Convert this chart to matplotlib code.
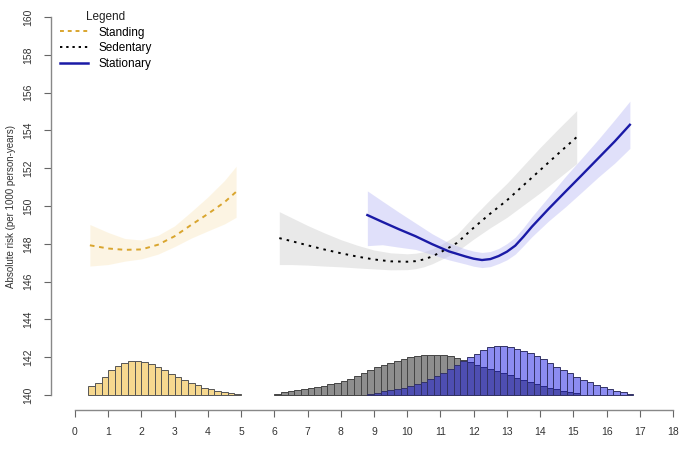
import numpy as np
import matplotlib
matplotlib.use("Agg")
import matplotlib.pyplot as plt
from matplotlib.lines import Line2D

# ---------------- data ----------------
# Standing (dashed goldenrod)
stand_x = [0.45, 1.0, 1.5, 2.0, 2.5, 3.0, 3.5, 4.0, 4.5, 4.85]
stand_y = [147.92, 147.75, 147.68, 147.70, 147.95, 148.40, 149.00, 149.58, 150.20, 150.75]
stand_lo = [146.82, 146.90, 147.08, 147.20, 147.45, 147.85, 148.30, 148.68, 149.05, 149.40]
stand_hi = [149.02, 148.60, 148.28, 148.20, 148.45, 148.95, 149.70, 150.48, 151.35, 152.10]

# Sedentary (dotted black)
sed_x = [6.15, 6.5, 7.0, 7.5, 8.0, 8.5, 9.0, 9.5, 10.0, 10.25, 10.5, 10.75, 11.0,
         11.25, 11.5, 12.0, 12.5, 13.0, 13.5, 14.0, 14.5, 15.1]
sed_y = [148.30, 148.15, 147.92, 147.70, 147.50, 147.32, 147.17, 147.07, 147.05,
         147.08, 147.17, 147.33, 147.55, 147.79, 148.05, 148.85, 149.60, 150.30,
         151.10, 151.90, 152.70, 153.65]
sed_lo = [146.90, 146.90, 146.87, 146.82, 146.78, 146.72, 146.67, 146.62, 146.63,
          146.68, 146.78, 146.94, 147.15, 147.37, 147.60, 148.25, 148.85, 149.40,
          150.05, 150.70, 151.40, 152.25]
sed_hi = [149.70, 149.40, 148.97, 148.58, 148.22, 147.92, 147.67, 147.52, 147.47,
          147.50, 147.58, 147.73, 147.95, 148.21, 148.50, 149.45, 150.35, 151.20,
          152.15, 153.10, 154.00, 155.05]

# Stationary (solid blue)
stat_x = [8.8, 9.25, 9.75, 10.25, 10.75, 11.25, 11.75, 12.0, 12.25, 12.5, 12.75,
          13.0, 13.25, 13.5, 13.75, 14.25, 14.75, 15.25, 15.75, 16.25, 16.7]
stat_y = [149.52, 149.16, 148.77, 148.40, 147.98, 147.60, 147.33, 147.21, 147.14,
          147.19, 147.35, 147.58, 147.90, 148.38, 148.90, 149.84, 150.74, 151.63,
          152.53, 153.43, 154.30]
stat_lo = [147.90, 147.95, 147.82, 147.70, 147.43, 147.15, 146.93, 146.81, 146.74,
           146.79, 146.95, 147.15, 147.45, 147.90, 148.37, 149.20, 149.94, 150.73,
           151.53, 152.28, 153.05]
stat_hi = [150.80, 150.26, 149.67, 149.10, 148.53, 148.05, 147.73, 147.61, 147.54,
           147.59, 147.75, 148.01, 148.35, 148.86, 149.43, 150.48, 151.54, 152.53,
           153.53, 154.58, 155.55]

# Histograms (bin width 0.2, base at 140)
hist_base = 140
bin_w = 0.2
stand_hist_start = 0.4
stand_hist = [0.48, 0.62, 0.97, 1.31, 1.53, 1.71, 1.82, 1.82, 1.75, 1.62, 1.48, 1.32,
              1.13, 0.97, 0.79, 0.63, 0.51, 0.39, 0.30, 0.21, 0.14, 0.09, 0.05]
sed_hist_start = 6.0
sed_hist = [0.05, 0.16, 0.19, 0.25, 0.30, 0.35, 0.42, 0.49, 0.58, 0.65, 0.74, 0.86,
            1.01, 1.15, 1.31, 1.46, 1.60, 1.71, 1.82, 1.89, 1.98, 2.06, 2.10, 2.12,
            2.13, 2.12, 2.05, 1.95, 1.85, 1.72, 1.60, 1.48, 1.38, 1.28, 1.18, 1.05,
            0.92, 0.80, 0.68, 0.57, 0.46, 0.37, 0.30, 0.23, 0.17, 0.11]
stat_hist_start = 8.8
stat_hist = [0.07, 0.12, 0.18, 0.25, 0.30, 0.37, 0.46, 0.56, 0.69, 0.83, 1.01, 1.18,
             1.39, 1.60, 1.80, 1.98, 2.15, 2.35, 2.52, 2.57, 2.58, 2.55, 2.45, 2.33,
             2.20, 2.08, 1.89, 1.71, 1.50, 1.32, 1.15, 0.97, 0.79, 0.67, 0.53, 0.41,
             0.30, 0.21, 0.14, 0.07]

x_ticks = list(range(0, 19))
y_ticks = list(range(140, 161, 2))
legend_labels = ["Standing", "Sedentary", "Stationary"]
y_label = "Absolute risk (per 1000 person-years)"

# ---------------- styling ----------------
c_stand = "#d9a52e"
c_sed = "black"
c_stat = "#1a1aa6"

plt.rcParams['font.family'] = ['Liberation Sans', 'DejaVu Sans']

fig = plt.figure(figsize=(7, 4.5), dpi=100)
ax = fig.add_axes([51/700, 40/450, 646/700, 408/450])

# confidence bands
ax.fill_between(stand_x, stand_lo, stand_hi, color="#f9e2b0", alpha=0.35, lw=0)
ax.fill_between(sed_x, sed_lo, sed_hi, color="#cfcfcf", alpha=0.45, lw=0)
ax.fill_between(stat_x, stat_lo, stat_hi, color="#bcbcf4", alpha=0.45, lw=0)

# lines
ax.plot(stand_x, stand_y, color=c_stand, lw=1.4, dashes=(2.4, 2.4))
ax.plot(sed_x, sed_y, color=c_sed, lw=1.4, dashes=(1.3, 2.6))
ax.plot(stat_x, stat_y, color=c_stat, lw=1.7, solid_joinstyle='round')

# histograms
def bars(start, heights, **kw):
    lefts = start + bin_w * np.arange(len(heights))
    ax.bar(lefts, heights, width=bin_w, bottom=hist_base, align='edge', **kw)

bars(stand_hist_start, stand_hist, color="#f6d88f", edgecolor="#555555", linewidth=0.7)
bars(sed_hist_start, sed_hist, color="#8e8e8e", edgecolor="#444444", linewidth=0.7)
bars(stat_hist_start, stat_hist, color=(0.0, 0.0, 0.88, 0.45), edgecolor="#333366", linewidth=0.7)

# axes
ax.set_xlim(-0.72, 18.72)
ax.set_ylim(139.2, 160.8)
for s in ["top", "right"]:
    ax.spines[s].set_visible(False)
ax.spines["left"].set_bounds(140, 160)
ax.spines["bottom"].set_bounds(0, 18)
for s in ["left", "bottom"]:
    ax.spines[s].set_color("#888888")
    ax.spines[s].set_linewidth(1.0)
ax.set_xticks(x_ticks)
ax.set_yticks(y_ticks)
ax.tick_params(axis='both', length=5, width=0.8, color="#666666", labelsize=7.5,
               labelcolor="#333333")
ax.tick_params(axis='x', pad=7)
ax.tick_params(axis='y', pad=8)
for lab in ax.get_yticklabels():
    lab.set_rotation(90)
    lab.set_va('center')
ax.set_ylabel(y_label, fontsize=7, color="#333333", labelpad=5)

handles = [Line2D([], [], color=c_stand, lw=1.4, dashes=(2.0, 2.0)),
           Line2D([], [], color=c_sed, lw=1.4, dashes=(1.2, 2.0)),
           Line2D([], [], color=c_stat, lw=1.8)]
leg = ax.legend(handles, legend_labels, title="Legend", loc="upper left",
                bbox_to_anchor=(0.006, 0.99), frameon=False, fontsize=8.5,
                title_fontsize=8.5, handlelength=2.4, handletextpad=0.9,
                labelspacing=0.32, borderaxespad=0.0)
leg.get_title().set_color("#222222")

fig.savefig("out.png", dpi=100)
